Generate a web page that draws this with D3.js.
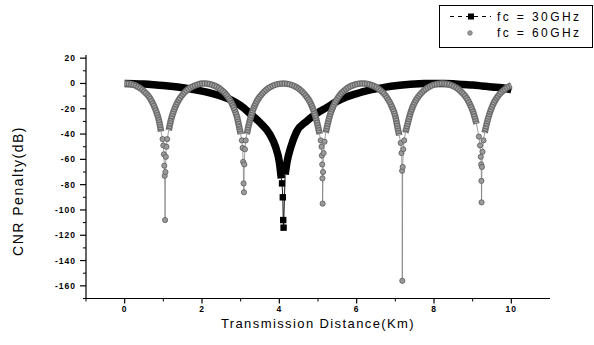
<!DOCTYPE html>
<html><head><meta charset="utf-8">
<script src="https://cdn.jsdelivr.net/npm/d3@7"></script>
<style>
html,body{margin:0;padding:0;background:#fff;}
svg{display:block;font-family:Arial,"Liberation Sans",sans-serif;}
</style></head>
<body>
<svg id="c" width="594" height="345"></svg>
<script>
// ---- data ----
const seriesNames = ["fc = 30GHz", "fc = 60GHz"];
const xTicks = [0, 2, 4, 6, 8, 10];
const yTicks = [20, 0, -20, -40, -60, -80, -100, -120, -140, -160];

const x30 = [0,0.25,0.5,0.75,1,1.25,1.5,1.75,2,2.25,2.5,2.75,3,3.25,3.5,3.75,3.9,4,4.05,4.07,4.09,4.1,4.11,4.15,4.2,4.3,4.45,4.7,4.95,5.2,5.5,5.75,6,6.25,6.5,6.75,7,7.25,7.5,7.75,8,8.25,8.5,8.75,9,9.25,9.5,9.75,10];
const y30 = [0,-0.2,-0.5,-1,-1.6,-2.4,-3.4,-4.6,-6,-7.8,-10,-13,-17.5,-24,-31,-40,-50,-62,-75,-79,-90,-108,-114,-72,-62,-50,-38,-30,-24,-19.5,-14,-10.5,-8,-5.8,-4.2,-2.9,-1.8,-1,-0.4,-0.1,0,0,-0.2,-0.8,-1.2,-2,-2.8,-3.4,-5];

const x60 = [0,0.1,0.2,0.3,0.4,0.5,0.6,0.7,0.8,0.9,0.94,0.98,1.0,1.015,1.025,1.035,1.045,1.055,1.065,1.08,1.1,1.14,1.2,1.3,1.4,1.5,1.6,1.7,1.8,1.9,2.0,2.1,2.2,2.3,2.4,2.5,2.6,2.7,2.8,2.9,2.96,3.0,3.03,3.05,3.065,3.075,3.085,3.095,3.11,3.13,3.16,3.2,3.3,3.4,3.5,3.6,3.7,3.8,3.9,4.0,4.1,4.2,4.3,4.4,4.5,4.6,4.7,4.8,4.9,5.0,5.04,5.07,5.09,5.1,5.11,5.115,5.12,5.13,5.145,5.17,5.2,5.3,5.4,5.5,5.6,5.7,5.8,5.9,6.0,6.1,6.2,6.3,6.4,6.5,6.6,6.7,6.8,6.9,7.0,7.06,7.1,7.14,7.16,7.175,7.18,7.19,7.205,7.23,7.26,7.3,7.4,7.5,7.6,7.7,7.8,7.9,8.0,8.1,8.2,8.3,8.4,8.5,8.6,8.7,8.8,8.9,9.0,9.1,9.16,9.19,9.21,9.22,9.225,9.23,9.24,9.255,9.28,9.31,9.4,9.5,9.6,9.7,9.8,9.9,10.0];
const y60 = [0,-0.15,-0.8,-2,-3.7,-6.2,-9.4,-14,-20.8,-31,-38,-44,-49,-56,-65,-73,-108,-70,-58,-50,-44,-37,-28.5,-19.3,-13,-8.7,-5.6,-3.3,-1.8,-0.7,-0.1,0,-0.5,-1.5,-2.9,-5.1,-7.9,-12,-17.7,-26,-34,-40,-45,-51,-62,-79,-86,-64,-52,-45,-40,-34,-22.5,-15,-10.2,-6.7,-4.1,-2.3,-1,-0.3,0,-0.3,-1,-2.3,-4.1,-6.7,-10.2,-15,-22.5,-34,-40,-45,-50,-57,-64,-75,-95,-70,-55,-46,-39,-26,-17.7,-12,-7.9,-5.1,-2.9,-1.5,-0.5,0,0,-0.5,-1.5,-2.9,-5.1,-7.9,-12,-17.7,-26,-35,-41,-47,-55,-69,-156,-66,-52,-45,-39,-34,-22.5,-15,-10.2,-6.7,-4.1,-2.3,-1,-0.3,0,-0.2,-0.85,-2.1,-3.8,-6.4,-9.7,-14.6,-21.5,-32,-42,-49,-58,-64,-77,-94,-66,-54,-45,-39,-27.5,-18.5,-12.5,-8.3,-5.4,-3,-1.5];

const d30 = x30.map((v,i)=>({x:v,y:y30[i]}));
const d60 = x60.map((v,i)=>({x:v,y:y60[i]}));

// ---- layout ----
const svg = d3.select("#c");
const x = d3.scaleLinear().domain([-1, 11]).range([86, 550]);
const y = d3.scaleLinear().domain([-170, 22.5]).range([298.5, 55]);

// axes
const gx = svg.append("g").attr("transform","translate(0,298.5)");
gx.append("line").attr("x1",86).attr("x2",550).attr("stroke","#000").attr("stroke-width",1.2);
gx.selectAll(".mj").data(xTicks).join("line")
  .attr("x1",d=>x(d)).attr("x2",d=>x(d)).attr("y1",0).attr("y2",5).attr("stroke","#000").attr("stroke-width",1.2);
gx.selectAll(".mn").data(d3.range(-1, 11, 2)).join("line")
  .attr("x1",d=>x(d)).attr("x2",d=>x(d)).attr("y1",0).attr("y2",3).attr("stroke","#000").attr("stroke-width",1);
gx.selectAll("text").data(xTicks).join("text")
  .attr("x",d=>x(d)).attr("y",13).attr("text-anchor","middle")
  .attr("font-size",8.5).attr("font-weight","bold").style("letter-spacing","1px").text(d=>d);

const gy = svg.append("g").attr("transform","translate(86,0)");
gy.append("line").attr("y1",55).attr("y2",298.5).attr("stroke","#000").attr("stroke-width",1.2);
gy.selectAll(".mj").data(yTicks).join("line")
  .attr("y1",d=>y(d)).attr("y2",d=>y(d)).attr("x1",0).attr("x2",-6).attr("stroke","#000").attr("stroke-width",1.2);
gy.selectAll(".mn").data(d3.range(-170, 20, 20)).join("line")
  .attr("y1",d=>y(d)).attr("y2",d=>y(d)).attr("x1",0).attr("x2",-3).attr("stroke","#000").attr("stroke-width",1);
gy.selectAll("text").data(yTicks).join("text")
  .attr("x",-10).attr("y",d=>y(d)).attr("dy","0.35em").attr("text-anchor","end")
  .attr("font-size",8.5).attr("font-weight","bold").style("letter-spacing","1px").text(d=>d);

// axis titles
svg.append("text").attr("x",318).attr("y",328).attr("text-anchor","middle")
  .attr("font-size",13).style("letter-spacing","1.4px").text("Transmission Distance(Km)");
svg.append("text").attr("transform","translate(23,191) rotate(-90)").attr("text-anchor","middle")
  .attr("font-size",14).style("letter-spacing","1.5px").text("CNR Penalty(dB)");

// ---- series ----
const thin = d3.line().x(d=>x(d.x)).y(d=>y(d.y));
const band30 = d3.line().defined(d=>d.y>=-76).x(d=>x(d.x)).y(d=>y(d.y)).curve(d3.curveMonotoneX);
const band60 = d3.line().defined(d=>d.y>=-41).x(d=>x(d.x)).y(d=>y(d.y)).curve(d3.curveMonotoneX);

// 30 GHz
svg.append("path").attr("d",thin(d30)).attr("fill","none").attr("stroke","#000").attr("stroke-width",0.9);
svg.append("path").attr("d",band30(d30)).attr("fill","none").attr("stroke","#000").attr("stroke-width",7.5).attr("stroke-linecap","butt");
svg.selectAll(".sq").data(d30.filter(d=>d.y<-76)).join("rect")
  .attr("x",d=>x(d.x)-3.2).attr("y",d=>y(d.y)-3.2).attr("width",6.4).attr("height",6.4).attr("fill","#000");

// 60 GHz
svg.append("path").attr("d",thin(d60)).attr("fill","none").attr("stroke","#777").attr("stroke-width",0.7);
svg.append("path").attr("d",band60(d60)).attr("fill","none").attr("stroke","#6e6e6e").attr("stroke-width",6.5);
svg.append("path").attr("d",band60(d60)).attr("fill","none").attr("stroke","#a9a9a9").attr("stroke-width",3.5).attr("stroke-dasharray","1 1.5");
svg.selectAll(".ci").data(d60.filter(d=>d.y<-41)).join("circle")
  .attr("cx",d=>x(d.x)).attr("cy",d=>y(d.y)).attr("r",2.6)
  .attr("fill","#9a9a9a").attr("stroke","#5a5a5a").attr("stroke-width",0.8);

// ---- legend ----
const lg = svg.append("g");
lg.append("rect").attr("x",439.5).attr("y",5.5).attr("width",153).attr("height",42).attr("fill","#fff").attr("stroke","#000").attr("stroke-width",1);
lg.append("line").attr("x1",450).attr("x2",491).attr("y1",16.5).attr("y2",16.5).attr("stroke","#000").attr("stroke-width",1).attr("stroke-dasharray","4 4");
lg.append("rect").attr("x",468).attr("y",13.5).attr("width",6).attr("height",6).attr("fill","#000");
lg.append("circle").attr("cx",470).attr("cy",33).attr("r",2.3).attr("fill","#9a9a9a").attr("stroke","#666").attr("stroke-width",0.7);
lg.selectAll("text").data(seriesNames).join("text")
  .attr("x",497).attr("y",(d,i)=>21+i*16).attr("font-size",12).style("letter-spacing","2.4px").text(d=>d);
</script>
</body></html>
